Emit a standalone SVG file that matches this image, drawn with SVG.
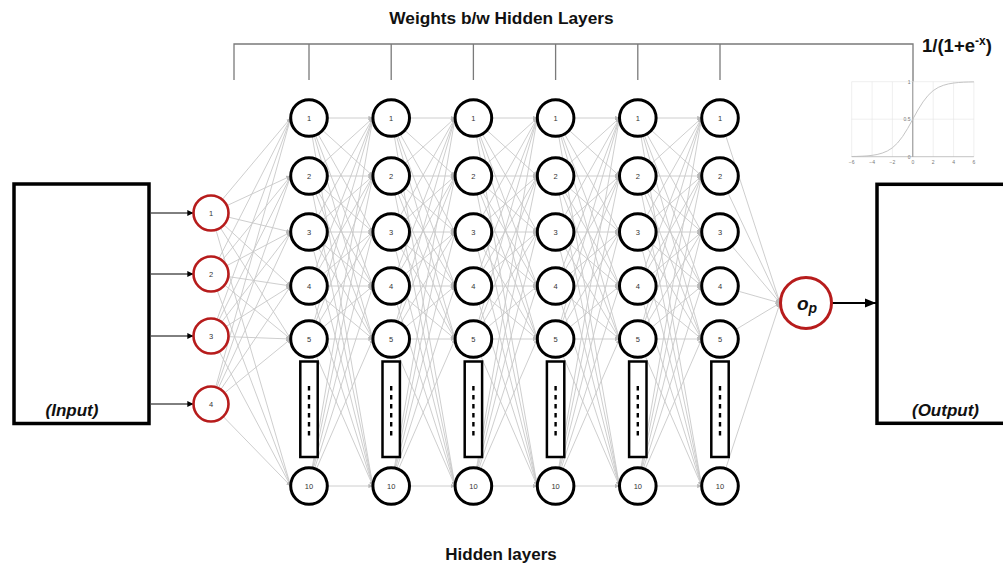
<svg xmlns="http://www.w3.org/2000/svg" xmlns:xlink="http://www.w3.org/1999/xlink" width="1003" height="565" viewBox="0 0 1003 565">
  <style>
    .title { font-family: "Liberation Sans", Arial, sans-serif; font-weight: bold; fill: #111; }
    .label { font-family: "Liberation Sans", Arial, sans-serif; font-weight: bold; font-style: italic; fill: #111; }
    .num { font-family: "Liberation Sans", Arial, sans-serif; font-size: 7.5px; fill: #333; text-anchor: middle; }
    .tick { font-family: "Liberation Sans", Arial, sans-serif; font-size: 5px; fill: #777; }
    .hid { fill: #fff; stroke: #000; stroke-width: 3; }
    .inp { fill: #fff; stroke: #b71c1c; stroke-width: 2.6; }
    .box { fill: #fff; stroke: #000; stroke-width: 3.5; }
    .ell { fill: #fff; stroke: #000; stroke-width: 2.5; }
    .dots { stroke: #000; stroke-width: 2.4; stroke-dasharray: 4.5 4.5; }
    .w { stroke: #c8c8c8; stroke-width: 0.9; }
    .w line { marker-end: url(#gh); }
    .brk { fill: none; stroke: #7a7a7a; stroke-width: 1.3; }
    .grid { stroke: #e4e4e4; stroke-width: 0.6; }
  </style>
  <defs>
    <marker id="gh" viewBox="0 0 10 10" refX="10" refY="5" markerWidth="4.5" markerHeight="4.5" markerUnits="userSpaceOnUse" orient="auto">
      <path d="M0,0 L10,5 L0,10 z" fill="#b8b8b8"/>
    </marker>
    <marker id="ah" viewBox="0 0 10 10" refX="10" refY="5" markerWidth="6" markerHeight="6" markerUnits="userSpaceOnUse" orient="auto">
      <path d="M0,0 L10,5 L0,10 z" fill="#000"/>
    </marker>
    <marker id="ahBig" viewBox="0 0 10 10" refX="10" refY="5" markerWidth="11" markerHeight="11" markerUnits="userSpaceOnUse" orient="auto">
      <path d="M0,1 L10,5 L0,9 z" fill="#000"/>
    </marker>
    <!-- full set of weights between two neighbouring hidden layers (source at x=0) -->
    <g id="gap" stroke="#c8c8c8" stroke-width="0.9" marker-end="url(#gh)">
      <line x1="0" y1="118" x2="63.9" y2="118"/><line x1="0" y1="118" x2="63.9" y2="176"/><line x1="0" y1="118" x2="63.9" y2="232"/>
      <line x1="0" y1="118" x2="63.9" y2="286"/><line x1="0" y1="118" x2="63.9" y2="339"/><line x1="0" y1="118" x2="63.9" y2="486"/>
      <line x1="0" y1="176" x2="63.9" y2="118"/><line x1="0" y1="176" x2="63.9" y2="176"/><line x1="0" y1="176" x2="63.9" y2="232"/>
      <line x1="0" y1="176" x2="63.9" y2="286"/><line x1="0" y1="176" x2="63.9" y2="339"/><line x1="0" y1="176" x2="63.9" y2="486"/>
      <line x1="0" y1="232" x2="63.9" y2="118"/><line x1="0" y1="232" x2="63.9" y2="176"/><line x1="0" y1="232" x2="63.9" y2="232"/>
      <line x1="0" y1="232" x2="63.9" y2="286"/><line x1="0" y1="232" x2="63.9" y2="339"/><line x1="0" y1="232" x2="63.9" y2="486"/>
      <line x1="0" y1="286" x2="63.9" y2="118"/><line x1="0" y1="286" x2="63.9" y2="176"/><line x1="0" y1="286" x2="63.9" y2="232"/>
      <line x1="0" y1="286" x2="63.9" y2="286"/><line x1="0" y1="286" x2="63.9" y2="339"/><line x1="0" y1="286" x2="63.9" y2="486"/>
      <line x1="0" y1="339" x2="63.9" y2="118"/><line x1="0" y1="339" x2="63.9" y2="176"/><line x1="0" y1="339" x2="63.9" y2="232"/>
      <line x1="0" y1="339" x2="63.9" y2="286"/><line x1="0" y1="339" x2="63.9" y2="339"/><line x1="0" y1="339" x2="63.9" y2="486"/>
      <line x1="0" y1="486" x2="63.9" y2="118"/><line x1="0" y1="486" x2="63.9" y2="176"/><line x1="0" y1="486" x2="63.9" y2="232"/>
      <line x1="0" y1="486" x2="63.9" y2="286"/><line x1="0" y1="486" x2="63.9" y2="339"/><line x1="0" y1="486" x2="63.9" y2="486"/>
    </g>
    <!-- one hidden layer column: nodes 1-5, the elided block and node 10 -->
    <g id="col">
      <circle class="hid" cx="0" cy="118" r="18.3"/><text class="num" x="0" y="120.7">1</text>
      <circle class="hid" cx="0" cy="176" r="18.3"/><text class="num" x="0" y="178.7">2</text>
      <circle class="hid" cx="0" cy="232" r="18.3"/><text class="num" x="0" y="234.7">3</text>
      <circle class="hid" cx="0" cy="286" r="18.3"/><text class="num" x="0" y="288.7">4</text>
      <circle class="hid" cx="0" cy="339" r="18.3"/><text class="num" x="0" y="341.7">5</text>
      <rect class="ell" x="-8.7" y="361.5" width="17.4" height="95.5"/>
      <line class="dots" x1="0" y1="386" x2="0" y2="436"/>
      <circle class="hid" cx="0" cy="486" r="18.3"/><text class="num" x="0" y="488.7">10</text>
    </g>
  </defs>

  <rect width="1003" height="565" fill="#fff"/>

  <!-- titles -->
  <text class="title" x="501.5" y="24" font-size="17.3" text-anchor="middle">Weights b/w Hidden Layers</text>
  <text class="title" x="501" y="560" font-size="17" text-anchor="middle">Hidden layers</text>
  <text class="title" x="922" y="52" font-size="18.5">1/(1+e<tspan font-size="12" dy="-7">-x</tspan><tspan dy="7">)</tspan></text>

  <!-- bracket over the weight layers -->
  <g id="bracket">
    <path class="brk" d="M234,80 V44 H913 V81.7"/>
    <path class="brk" d="M309,44 V80 M391.2,44 V80 M473.4,44 V80 M555.6,44 V80 M637.8,44 V80 M720,44 V80"/>
  </g>

  <!-- sigmoid plot -->
  <g id="sigmoid">
    <path class="grid" d="M851.7,81.7 V156.7 M872.1,81.7 V156.7 M892.4,81.7 V156.7 M933.2,81.7 V156.7 M953.6,81.7 V156.7 M973.9,81.7 V156.7 M851.7,81.7 H973.9 M851.7,119.2 H973.9"/>
    <path d="M851.7,156.7 H973.9" stroke="#aaa" stroke-width="0.7"/>
    <path d="M912.8,81.7 V156.7" stroke="#888" stroke-width="1"/>
    <polyline fill="none" stroke="#bdbdbd" stroke-width="0.9" points="851.7,156.5 856.8,156.4 861.9,156.2 867,155.9 872,155.35 877.1,154.5 882.2,153.1 887.3,151 892.4,147.8 897.5,143 902.6,136.5 907.7,128.4 912.8,119.2 917.9,110 923,101.9 928.1,95.4 933.2,90.6 938.3,87.4 943.4,85.3 948.5,83.9 953.6,83.05 958.6,82.5 963.7,82.2 968.8,82 973.9,81.9"/>
    <g class="tick" text-anchor="middle">
      <text x="851.7" y="163.5">−6</text><text x="872.1" y="163.5">−4</text><text x="892.4" y="163.5">−2</text>
      <text x="912.8" y="163.5">0</text><text x="933.2" y="163.5">2</text><text x="953.6" y="163.5">4</text><text x="973.9" y="163.5">6</text>
    </g>
    <g class="tick" text-anchor="end">
      <text x="910.5" y="83.5">1</text><text x="910.5" y="121">0.5</text><text x="910.5" y="158.5">0</text>
    </g>
  </g>

  <!-- connectors -->
  <g id="connectors">
    <g class="w">
      <!-- input layer to hidden layer 1 -->
      <line x1="211" y1="213" x2="290.7" y2="118"/><line x1="211" y1="213" x2="290.7" y2="176"/><line x1="211" y1="213" x2="290.7" y2="232"/>
      <line x1="211" y1="213" x2="290.7" y2="286"/><line x1="211" y1="213" x2="290.7" y2="339"/><line x1="211" y1="213" x2="290.7" y2="486"/>
      <line x1="211" y1="274" x2="290.7" y2="118"/><line x1="211" y1="274" x2="290.7" y2="176"/><line x1="211" y1="274" x2="290.7" y2="232"/>
      <line x1="211" y1="274" x2="290.7" y2="286"/><line x1="211" y1="274" x2="290.7" y2="339"/><line x1="211" y1="274" x2="290.7" y2="486"/>
      <line x1="211" y1="336" x2="290.7" y2="118"/><line x1="211" y1="336" x2="290.7" y2="176"/><line x1="211" y1="336" x2="290.7" y2="232"/>
      <line x1="211" y1="336" x2="290.7" y2="286"/><line x1="211" y1="336" x2="290.7" y2="339"/><line x1="211" y1="336" x2="290.7" y2="486"/>
      <line x1="211" y1="404" x2="290.7" y2="118"/><line x1="211" y1="404" x2="290.7" y2="176"/><line x1="211" y1="404" x2="290.7" y2="232"/>
      <line x1="211" y1="404" x2="290.7" y2="286"/><line x1="211" y1="404" x2="290.7" y2="339"/><line x1="211" y1="404" x2="290.7" y2="486"/>
      <!-- between hidden layers -->
      <use xlink:href="#gap" href="#gap" x="309"/>
      <use xlink:href="#gap" href="#gap" x="391.2"/>
      <use xlink:href="#gap" href="#gap" x="473.4"/>
      <use xlink:href="#gap" href="#gap" x="555.6"/>
      <use xlink:href="#gap" href="#gap" x="637.8"/>
      <!-- last hidden layer to output -->
      <line x1="720" y1="118" x2="780" y2="303"/><line x1="720" y1="176" x2="780" y2="303"/><line x1="720" y1="232" x2="780" y2="303"/>
      <line x1="720" y1="286" x2="780" y2="303"/><line x1="720" y1="339" x2="780" y2="303"/><line x1="720" y1="486" x2="780" y2="303"/>
    </g>
    <!-- feeds from the input block -->
    <g stroke="#000" stroke-width="1" marker-end="url(#ah)">
      <line x1="151" y1="213" x2="193.3" y2="213"/>
      <line x1="151" y1="274" x2="193.3" y2="274"/>
      <line x1="151" y1="336" x2="193.3" y2="336"/>
      <line x1="151" y1="404" x2="193.3" y2="404"/>
    </g>
    <line x1="832" y1="303" x2="876" y2="303" stroke="#000" stroke-width="2" marker-end="url(#ahBig)"/>
  </g>

  <!-- input / output blocks -->
  <g id="input-box">
    <rect class="box" x="14" y="184" width="135" height="239.5"/>
    <text class="label" x="72" y="416" font-size="17" text-anchor="middle">(Input)</text>
  </g>
  <g id="output-box">
    <rect class="box" x="877" y="184.3" width="140" height="239"/>
    <text class="label" x="945.5" y="416" font-size="17" text-anchor="middle">(Output)</text>
  </g>

  <!-- input neurons -->
  <g id="in1"><circle class="inp" cx="211" cy="213" r="17.5"/><text class="num" x="211" y="215.7">1</text></g>
  <g id="in2"><circle class="inp" cx="211" cy="274" r="17.5"/><text class="num" x="211" y="276.7">2</text></g>
  <g id="in3"><circle class="inp" cx="211" cy="336" r="17.5"/><text class="num" x="211" y="338.7">3</text></g>
  <g id="in4"><circle class="inp" cx="211" cy="404" r="17.5"/><text class="num" x="211" y="406.7">4</text></g>

  <!-- hidden layers -->
  <g id="hidden1"><use xlink:href="#col" href="#col" x="309"/></g>
  <g id="hidden2"><use xlink:href="#col" href="#col" x="391.2"/></g>
  <g id="hidden3"><use xlink:href="#col" href="#col" x="473.4"/></g>
  <g id="hidden4"><use xlink:href="#col" href="#col" x="555.6"/></g>
  <g id="hidden5"><use xlink:href="#col" href="#col" x="637.8"/></g>
  <g id="hidden6"><use xlink:href="#col" href="#col" x="720"/></g>

  <!-- output neuron -->
  <g id="out">
    <circle cx="806" cy="303" r="25.5" fill="#fff" stroke="#b71c1c" stroke-width="3"/>
    <text class="label" x="797" y="309.5" font-size="19">o<tspan font-size="14" dy="3">p</tspan></text>
  </g>
</svg>
